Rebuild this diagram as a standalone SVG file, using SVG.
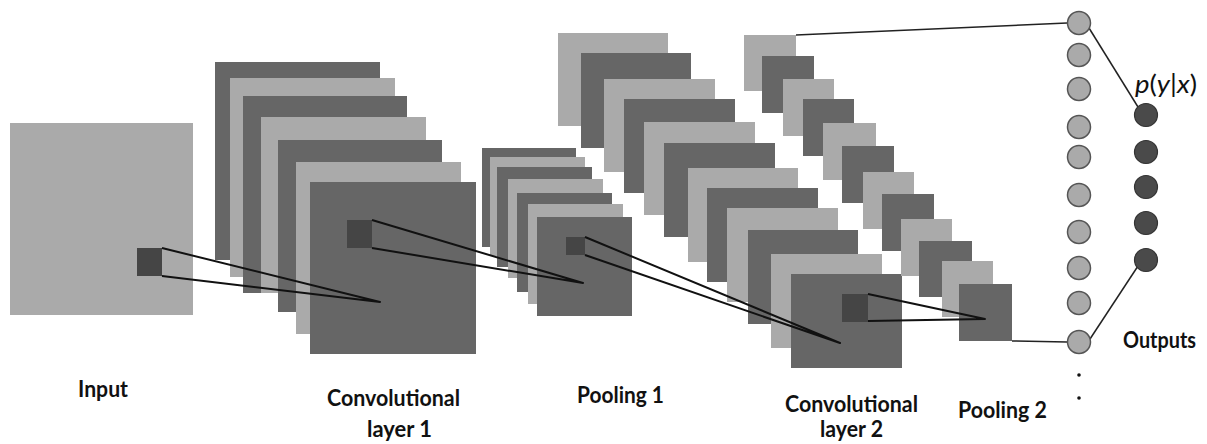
<svg xmlns="http://www.w3.org/2000/svg" width="1207" height="444" viewBox="0 0 1207 444">
<style>
.lt{fill:#aaaaaa}
.dk{fill:#666666}
.sq{fill:#454545}
.cone{stroke:#111;stroke-width:2;fill:none;stroke-linejoin:round}
.wire{stroke:#222;stroke-width:1.5;fill:none}
.neu{fill:#aaaaaa;stroke:#555;stroke-width:1.5}
.out{fill:#4a4a4a;stroke:#333;stroke-width:1.2}
.lbl{font-family:Lato,"Open Sans","Liberation Sans",sans-serif;font-weight:bold;font-size:22px;fill:#111}
.math{font-family:Lato,"Open Sans","Liberation Sans",sans-serif;font-size:25px;fill:#111}
</style>
<rect width="1207" height="444" fill="#ffffff"/>

<g id="input">
<rect class="lt" x="10" y="123" width="183" height="192"/>
<rect class="sq" x="137" y="248" width="25" height="28"/>
</g>

<g id="conv1">
<rect class="dk" x="215" y="62" width="165" height="198"/>
<rect class="lt" x="230" y="78" width="165" height="199"/>
<rect class="dk" x="243" y="96" width="164" height="197"/>
<rect class="lt" x="261" y="117" width="165" height="176"/>
<rect class="dk" x="278" y="140" width="164" height="172"/>
<rect class="lt" x="296" y="162" width="165" height="172"/>
<rect class="dk" x="310" y="182" width="166" height="172"/>
<rect class="sq" x="347" y="220" width="25" height="28"/>
</g>

<g id="pool1">
<rect class="dk" x="482" y="148" width="94" height="99"/>
<rect class="lt" x="490" y="157" width="95" height="99"/>
<rect class="dk" x="497" y="167" width="95" height="100"/>
<rect class="lt" x="508" y="179" width="95" height="99"/>
<rect class="dk" x="517" y="193" width="95" height="99"/>
<rect class="lt" x="528" y="204" width="95" height="100"/>
<rect class="dk" x="537" y="217" width="95" height="99"/>
<rect class="sq" x="566" y="237" width="19" height="18"/>
</g>

<g id="conv2">
<rect class="lt" x="558" y="33" width="110" height="93"/>
<rect class="dk" x="581" y="53" width="110" height="95"/>
<rect class="lt" x="604" y="79" width="111" height="93"/>
<rect class="dk" x="624" y="99" width="111" height="94"/>
<rect class="lt" x="644" y="122" width="111" height="93"/>
<rect class="dk" x="664" y="143" width="111" height="94"/>
<rect class="lt" x="688" y="168" width="110" height="94"/>
<rect class="dk" x="707" y="188" width="111" height="94"/>
<rect class="lt" x="727" y="208" width="111" height="94"/>
<rect class="dk" x="748" y="230" width="110" height="94"/>
<rect class="lt" x="771" y="254" width="111" height="94"/>
<rect class="dk" x="791" y="274" width="111" height="94"/>
<rect class="sq" x="842" y="294" width="26" height="28"/>
</g>

<g id="pool2">
<rect class="lt" x="744" y="35" width="52" height="56"/>
<rect class="dk" x="762" y="56" width="52" height="57"/>
<rect class="lt" x="783" y="79" width="51" height="57"/>
<rect class="dk" x="803" y="99" width="51" height="57"/>
<rect class="lt" x="823" y="123" width="53" height="57"/>
<rect class="dk" x="842" y="146" width="52" height="57"/>
<rect class="lt" x="863" y="172" width="51" height="57"/>
<rect class="dk" x="882" y="194" width="52" height="57"/>
<rect class="lt" x="901" y="219" width="51" height="57"/>
<rect class="dk" x="919" y="241" width="53" height="56"/>
<rect class="lt" x="942" y="261" width="51" height="56"/>
<rect class="dk" x="959" y="284" width="53" height="57"/>
</g>

<g id="connectors">
<polyline class="cone" points="162,248 380,302 162,276"/>
<polyline class="cone" points="372,220 583,283 372,248"/>
<polyline class="cone" points="585,237 840,343 585,255"/>
<polyline class="cone" points="868,294 985,319 868,321"/>
<line class="wire" x1="796" y1="35" x2="1067" y2="23"/>
<line class="wire" x1="1012" y1="341" x2="1067" y2="342"/>
<line class="wire" x1="1089" y1="28" x2="1138" y2="107"/>
<line class="wire" x1="1090" y1="339" x2="1138" y2="266"/>
</g>

<g id="fc-layer">
<circle class="neu" cx="1079" cy="23" r="11.5"/>
<circle class="neu" cx="1079" cy="55" r="11.5"/>
<circle class="neu" cx="1079" cy="89" r="11.5"/>
<circle class="neu" cx="1079" cy="127" r="11.5"/>
<circle class="neu" cx="1079" cy="157" r="11.5"/>
<circle class="neu" cx="1079" cy="195" r="11.5"/>
<circle class="neu" cx="1079" cy="232" r="11.5"/>
<circle class="neu" cx="1079" cy="268" r="11.5"/>
<circle class="neu" cx="1079" cy="303" r="11.5"/>
<circle class="neu" cx="1079" cy="342" r="11.5"/>
<circle cx="1079" cy="375" r="1.8" fill="#111"/>
<circle cx="1079" cy="398" r="1.8" fill="#111"/>
</g>

<g id="outputs">
<circle class="out" cx="1146" cy="115" r="11.5"/>
<circle class="out" cx="1146" cy="152" r="11.5"/>
<circle class="out" cx="1146" cy="187" r="11.5"/>
<circle class="out" cx="1146" cy="223" r="11.5"/>
<circle class="out" cx="1146" cy="260" r="11.5"/>
<text class="math" x="1135" y="93" textLength="62" lengthAdjust="spacingAndGlyphs"><tspan font-style="italic">p</tspan>(<tspan font-style="italic">y</tspan>|<tspan font-style="italic">x</tspan>)</text>
<text class="lbl" x="1123" y="348" textLength="73" lengthAdjust="spacingAndGlyphs">Outputs</text>
</g>

<g id="labels">
<text class="lbl" x="78" y="397" textLength="50" lengthAdjust="spacingAndGlyphs">Input</text>
<text class="lbl" x="327" y="406" textLength="133" lengthAdjust="spacingAndGlyphs">Convolutional</text>
<text class="lbl" x="367" y="437" textLength="65" lengthAdjust="spacingAndGlyphs">layer 1</text>
<text class="lbl" x="577" y="403" textLength="87" lengthAdjust="spacingAndGlyphs">Pooling 1</text>
<text class="lbl" x="785" y="412" textLength="133" lengthAdjust="spacingAndGlyphs">Convolutional</text>
<text class="lbl" x="820" y="437" textLength="63" lengthAdjust="spacingAndGlyphs">layer 2</text>
<text class="lbl" x="958" y="418" textLength="89" lengthAdjust="spacingAndGlyphs">Pooling 2</text>
</g>
</svg>
